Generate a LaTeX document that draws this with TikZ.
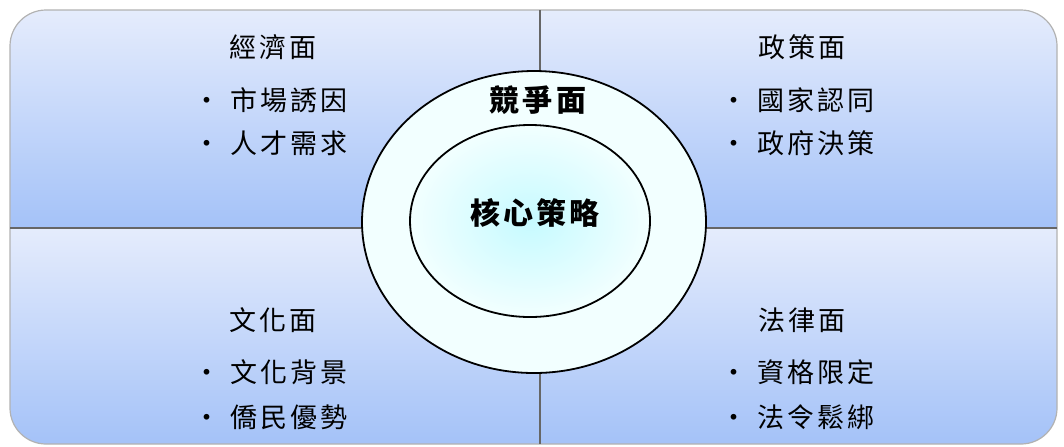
\documentclass[tikz,border=0pt]{standalone}
\usepackage{fontspec}
\newfontfamily\cjk[LetterSpace=11]{Noto Sans CJK TC}
\usetikzlibrary{shapes.geometric,positioning}
\definecolor{quadtop}{RGB}{229,236,252}
\definecolor{quadbot}{RGB}{164,194,248}
\definecolor{ringfill}{RGB}{242,255,255}
\definecolor{corefill}{RGB}{198,250,255}

\begin{document}
\begin{tikzpicture}[x=0.5pt,y=-0.5pt,
  facet/.style={font=\cjk\fontsize{13.5}{16}\selectfont,inner sep=0pt},
  item/.style={facet,anchor=west},
  core/.style={inner sep=0pt,font=\cjk\bfseries\fontsize{15}{18}\selectfont},
  ring/.style={ellipse,draw,line width=0.9pt,inner sep=0pt}]
\useasboundingbox (0,0) rectangle (1064,446);
% four panels
\begin{scope}
  \clip[rounded corners=18pt] (10,10) rectangle (1057,444);
  \shade[top color=quadtop,bottom color=quadbot] (10,10) rectangle (540,228);
  \shade[top color=quadtop,bottom color=quadbot] (540,10) rectangle (1057,228);
  \shade[top color=quadtop,bottom color=quadbot] (10,228) rectangle (540,444);
  \shade[top color=quadtop,bottom color=quadbot] (540,228) rectangle (1057,444);
\end{scope}
\draw[gray!60,line width=0.6pt,rounded corners=18pt] (10,10) rectangle (1057,444);
\draw[gray!80!black,line width=0.6pt] (540,10) -- (540,444) (10,228) -- (1057,228);

% panel texts
\node[facet] (econ) at (273,47) {經濟面};
\node[item] (econa) at (230,100) {\llap{•\hspace{5pt}}市場誘因};
\node[item] (econb) at (230,143) {\llap{•\hspace{5pt}}人才需求};
\node[facet] (policy) at (802,47) {政策面};
\node[item] (policya) at (757,100) {\llap{•\hspace{5pt}}國家認同};
\node[item] (policyb) at (757,143) {\llap{•\hspace{5pt}}政府決策};
\node[facet] (culture) at (273,320) {文化面};
\node[item] (culturea) at (230,372) {\llap{•\hspace{5pt}}文化背景};
\node[item] (cultureb) at (230,417) {\llap{•\hspace{5pt}}僑民優勢};
\node[facet] (law) at (802,320) {法律面};
\node[item] (lawa) at (757,372) {\llap{•\hspace{5pt}}資格限定};
\node[item] (lawb) at (757,417) {\llap{•\hspace{5pt}}法令鬆綁};

% rings
\node[ring,fill=ringfill,minimum width=172pt,minimum height=151pt] (rivalry) at (534,222) {};
\node[ring,inner color=corefill,outer color=ringfill,minimum width=120pt,minimum height=96pt] (corering) at (530,221) {};
\node[core] (rivalrytext) at (538,100) {競爭面};
\node[core] (coretext) at (535,213) {核心策略};
\end{tikzpicture}
\end{document}
